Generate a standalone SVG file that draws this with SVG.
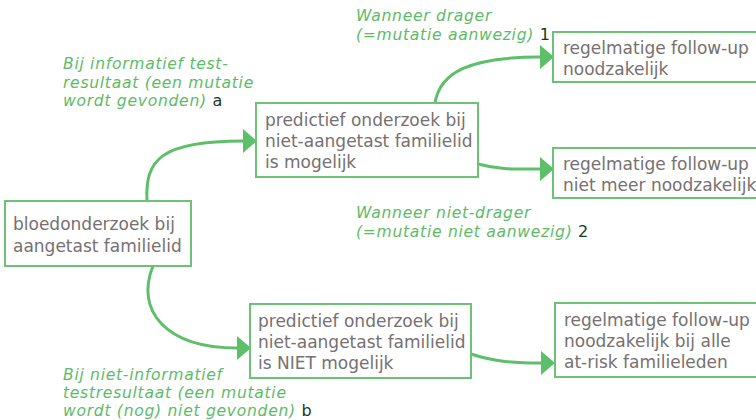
<svg xmlns="http://www.w3.org/2000/svg" width="756" height="420" viewBox="0 0 756 420">
<style>
.box{fill:#fff;stroke:#6cc277;stroke-width:2}
.t{font-family:"DejaVu Sans",sans-serif;font-size:17px;fill:#767070}
.lbl{font-family:"DejaVu Sans",sans-serif;font-size:15.6px;letter-spacing:0.7px;font-style:italic;fill:#5dbb67}
.num{font-family:"DejaVu Sans",sans-serif;font-size:16px;letter-spacing:0;font-style:normal;fill:#143a22}
.c{fill:none;stroke:#5dbf69;stroke-width:3}
</style>
<defs>
<marker id="ah" markerUnits="userSpaceOnUse" markerWidth="16" markerHeight="24" refX="0" refY="12" orient="auto">
<path d="M0,0 L14,12 L0,24 Z" fill="#5dbf69"/>
</marker>
</defs>
<rect width="756" height="420" fill="#fff"/>
<g id="connectors">
<path class="c" d="M147,201 C145,160 160,141 243,141" marker-end="url(#ah)"/>
<path class="c" d="M153,266 C135,310 165,348 237,348" marker-end="url(#ah)"/>
<path class="c" d="M435,103 C440,72 470,57 540,57" marker-end="url(#ah)"/>
<path class="c" d="M478,164 C500,170 515,169 540,169" marker-end="url(#ah)"/>
<path class="c" d="M471,354 C495,362 515,363 541,363" marker-end="url(#ah)"/>
</g>
<g id="n1">
<rect class="box" x="5" y="201" width="186" height="65"/>
<text class="t" x="13" y="230">bloedonderzoek bij</text>
<text class="t" x="13" y="252">aangetast familielid</text>
</g>
<g id="n2">
<rect class="box" x="256" y="103" width="222" height="74"/>
<text class="t" x="265" y="126">predictief onderzoek bij</text>
<text class="t" x="265" y="147">niet-aangetast familielid</text>
<text class="t" x="265" y="168">is mogelijk</text>
</g>
<g id="n3">
<rect class="box" x="553" y="32" width="220" height="50"/>
<text class="t" x="563" y="54">regelmatige follow-up</text>
<text class="t" x="563" y="75">noodzakelijk</text>
</g>
<g id="n4">
<rect class="box" x="553" y="148" width="220" height="50"/>
<text class="t" x="563" y="170">regelmatige follow-up</text>
<text class="t" x="563" y="191">niet meer noodzakelijk</text>
</g>
<g id="n5">
<rect class="box" x="250" y="304" width="221" height="74"/>
<text class="t" x="258" y="327">predictief onderzoek bij</text>
<text class="t" x="258" y="348">niet-aangetast familielid</text>
<text class="t" x="258" y="369">is NIET mogelijk</text>
</g>
<g id="n6">
<rect class="box" x="555" y="303" width="220" height="74"/>
<text class="t" x="564" y="326">regelmatige follow-up</text>
<text class="t" x="564" y="347">noodzakelijk bij alle</text>
<text class="t" x="564" y="368">at-risk familieleden</text>
</g>
<g id="labels">
<text class="lbl" x="63" y="69">Bij informatief test-</text>
<text class="lbl" x="63" y="87.5">resultaat (een mutatie</text>
<text class="lbl" x="63" y="105.5">wordt gevonden) <tspan class="num">a</tspan></text>
<text class="lbl" x="356" y="21">Wanneer drager</text>
<text class="lbl" x="356" y="40">(=mutatie aanwezig) <tspan class="num">1</tspan></text>
<text class="lbl" x="356" y="218">Wanneer niet-drager</text>
<text class="lbl" x="356" y="237">(=mutatie niet aanwezig) <tspan class="num">2</tspan></text>
<text class="lbl" x="63" y="380">Bij niet-informatief</text>
<text class="lbl" x="63" y="398">testresultaat (een mutatie</text>
<text class="lbl" x="63" y="415.5">wordt (nog) niet gevonden) <tspan class="num">b</tspan></text>
</g>
</svg>
